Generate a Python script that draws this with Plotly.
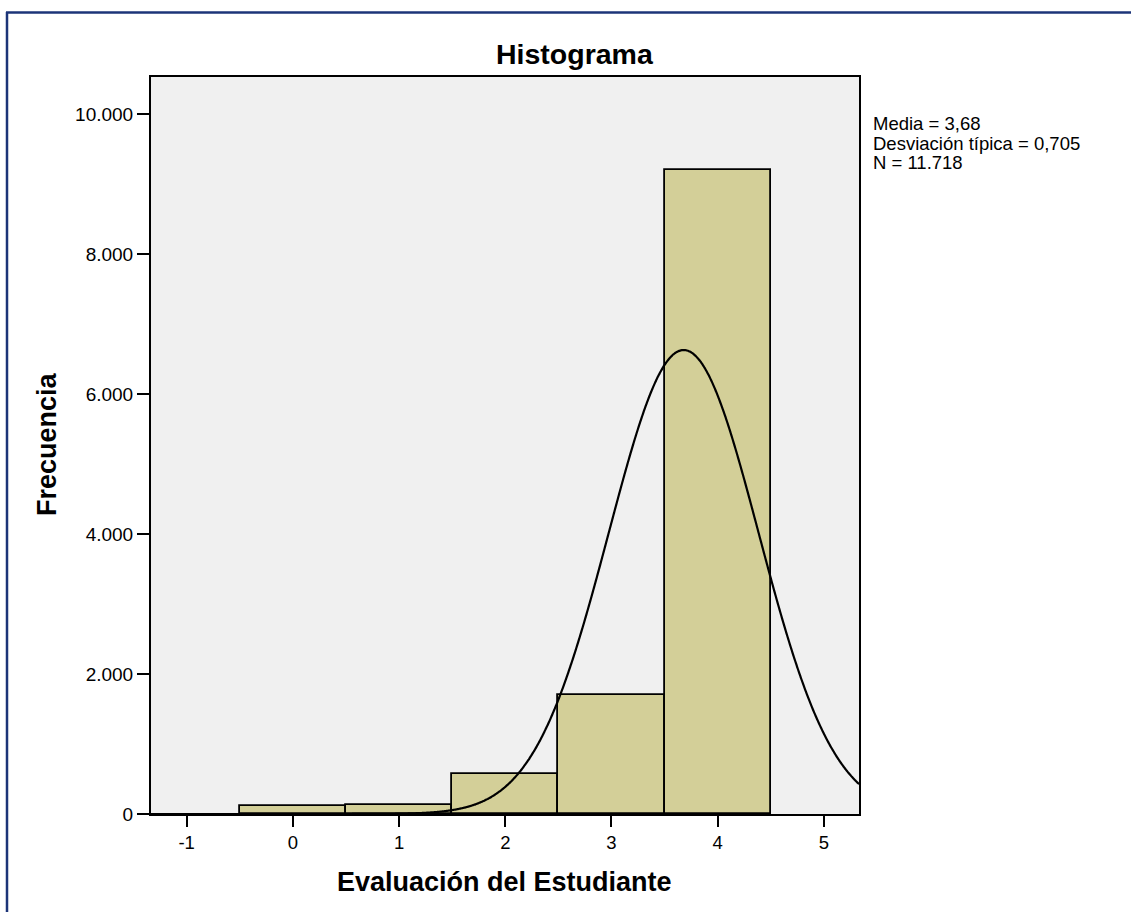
import numpy as np
import plotly.graph_objects as go

# Data
bin_centers = [0, 1, 2, 3, 4]
frequencies = [108, 130, 575, 1705, 9200]
mean_val = 3.68
sd_val = 0.705
n_val = 11718
y_tickvals = [0, 2000, 4000, 6000, 8000, 10000]
y_ticktext = ["0", "2.000", "4.000", "6.000", "8.000", "10.000"]
x_tickvals = [-1, 0, 1, 2, 3, 4, 5]
x_ticktext = ["-1", "0", "1", "2", "3", "4", "5"]
stats_lines = ["Media = 3,68", "Desviación típica = 0,705", "N = 11.718"]

x_range = [-1.336, 5.331]
y_range = [0, 10533]

# Fitted normal curve from the displayed statistics (bin width 1)
xc = np.linspace(x_range[0], x_range[1], 800)
yc = n_val * 1.0 / (sd_val * np.sqrt(2 * np.pi)) * np.exp(-0.5 * ((xc - mean_val) / sd_val) ** 2)

FONT = "Liberation Sans, Arial, sans-serif"

fig = go.Figure()
fig.add_trace(go.Bar(
    x=bin_centers, y=frequencies, width=1.0,
    marker=dict(color="#D3CF98", line=dict(color="black", width=1.8)),
    hoverinfo="x+y", showlegend=False,
))
fig.add_trace(go.Scatter(
    x=xc, y=yc, mode="lines", line=dict(color="black", width=2.2, shape="spline"),
    showlegend=False, hoverinfo="skip",
))

L, R, T, B = 151, 859, 77, 814
W, H = 1131, 912
pw, ph = R - L, B - T


def px(x):
    return (x - L) / pw


def py(y):
    return (B - y) / ph


fig.update_layout(
    width=W, height=H,
    margin=dict(l=L, r=W - R, t=T, b=H - B, autoexpand=False),
    paper_bgcolor="white", plot_bgcolor="#F0F0F0",
    font=dict(family=FONT, color="black", size=18),
    bargap=0,
    xaxis=dict(range=x_range, tickvals=x_tickvals, ticktext=x_ticktext,
               ticks="outside", ticklen=11, tickwidth=2, tickcolor="black",
               showline=True, linecolor="black", linewidth=2, mirror=True,
               showgrid=False, zeroline=False, tickfont=dict(size=18.5, family=FONT)),
    yaxis=dict(range=y_range, tickvals=y_tickvals, ticktext=y_ticktext,
               ticks="outside", ticklen=12, tickwidth=2, tickcolor="black",
               showline=True, linecolor="black", linewidth=2, mirror=True,
               showgrid=False, zeroline=False, tickfont=dict(size=19, family=FONT)),
)

annotations = [
    dict(text="<b>Histograma</b>", x=px(575), y=py(54), xref="paper", yref="paper",
         xanchor="center", yanchor="middle", showarrow=False, font=dict(size=28.5, family=FONT)),
    dict(text="<b>Evaluación del Estudiante</b>", x=px(504), y=py(882), xref="paper", yref="paper",
         xanchor="center", yanchor="middle", showarrow=False, font=dict(size=27, family=FONT)),
    dict(text="<b>Frecuencia</b>", x=px(47), y=py(444), xref="paper", yref="paper",
         xanchor="center", yanchor="middle", textangle=-90, showarrow=False, font=dict(size=27, family=FONT)),
]
for line, yc_px in zip(stats_lines, [123.5, 143, 162.5]):
    annotations.append(dict(text=line, x=px(871), y=py(yc_px), xref="paper", yref="paper",
                            xanchor="left", yanchor="middle", showarrow=False,
                            font=dict(size=18.5, family=FONT)))
fig.update_layout(annotations=annotations)

frame_color = "#1C3478"
fig.add_shape(type="line", xref="paper", yref="paper", x0=px(6), x1=px(1131), y0=py(12.5), y1=py(12.5),
              line=dict(color=frame_color, width=2.5))
fig.add_shape(type="line", xref="paper", yref="paper", x0=px(7), x1=px(7), y0=py(12), y1=py(912),
              line=dict(color=frame_color, width=2.5))

fig.write_html("out.html",
               config={"displayModeBar": False},
               post_script="document.body.style.margin='0px';document.body.style.overflow='hidden';")
